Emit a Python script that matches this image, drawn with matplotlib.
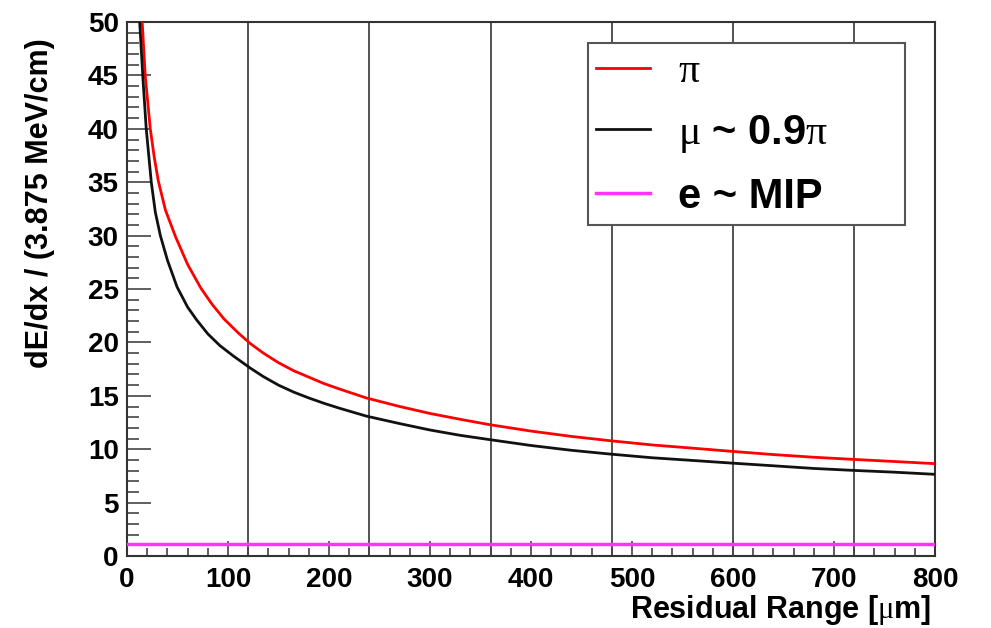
import matplotlib
matplotlib.use('Agg')
import matplotlib.pyplot as plt

plt.rcParams['font.family'] = ['Liberation Sans', 'DejaVu Sans']
plt.rcParams['font.weight'] = 'bold'
plt.rcParams['mathtext.fontset'] = 'custom'
plt.rcParams['mathtext.rm'] = 'Liberation Serif:weight=normal'
plt.rcParams['mathtext.default'] = 'rm'

# values
pi_x = [15, 18, 23, 27, 31, 38, 48, 60, 73, 84, 96, 110, 122, 135, 150, 165, 180,
        195, 210, 237, 270, 300, 330, 359, 400, 440, 478, 520, 560, 599, 640, 680,
        719, 760, 800]
pi_y = [50.0, 45.0, 40.0, 37.3, 35.1, 32.4, 29.9, 27.3, 25.1, 23.6, 22.2, 20.9,
        19.9, 19.0, 18.1, 17.35, 16.75, 16.15, 15.65, 14.8, 14.0, 13.35, 12.8,
        12.3, 11.7, 11.2, 10.8, 10.4, 10.1, 9.8, 9.5, 9.25, 9.05, 8.85, 8.65]
mu_x = [12.5, 15.8, 19, 24, 28, 33, 40, 49.5, 60, 69, 80, 92, 105, 122, 135, 150,
        165, 180, 195, 210, 237, 270, 300, 330, 359, 400, 440, 478, 520, 560, 599,
        640, 680, 719, 760, 800]
mu_y = [50.0, 44.6, 40.0, 35.0, 32.2, 30.0, 27.7, 25.2, 23.3, 22.1, 20.8, 19.7,
        18.75, 17.6, 16.8, 16.0, 15.35, 14.8, 14.3, 13.85, 13.1, 12.4, 11.8, 11.3,
        10.9, 10.35, 9.9, 9.55, 9.2, 8.95, 8.7, 8.45, 8.2, 8.02, 7.85, 7.65]
mip_x = [0, 800]
mip_y = [1.1, 1.1]
grid_x = [120, 240, 360, 480, 600, 720]

fig = plt.figure(figsize=(9.91, 6.28), dpi=100)
ax = fig.add_axes([0.1282, 0.1146, 0.8153, 0.8503])

for gx in grid_x:
    ax.axvline(gx, color='#444444', lw=1.3, zorder=1)

ax.plot(pi_x, pi_y, color='#ff0000', lw=2, label=r'$\pi$', zorder=3)
ax.plot(mu_x, mu_y, color='#111111', lw=2, label=r'$\mu$ ~ 0.9$\pi$', zorder=3)
ax.plot(mip_x, mip_y, color='#ff33ff', lw=2.5, label='e ~ MIP', zorder=3)

ax.set_xlim(0, 800)
ax.set_ylim(0, 50)
ax.set_xticks(range(0, 801, 100))
ax.set_xticks(range(0, 801, 20), minor=True)
ax.set_yticks(range(0, 51, 5))
ax.set_yticks(range(0, 51, 1), minor=True)
ax.tick_params(axis='both', which='both', direction='in', top=False, right=False,
               color='#444444', width=1.2)
ax.tick_params(axis='x', which='major', length=11, labelsize=20, pad=8)
ax.tick_params(axis='x', which='minor', length=6)
ax.tick_params(axis='y', which='major', length=17, labelsize=20, pad=6)
ax.tick_params(axis='y', which='minor', length=8.5)
for s in ax.spines.values():
    s.set_color('#333333')
    s.set_linewidth(1.5)

ax.set_xlabel(r'Residual Range [$\mu$m]', fontsize=22, fontweight='bold', loc='right')
ax.xaxis.set_label_coords(0.995, -0.069)
ax.set_ylabel('dE/dx / (3.875 MeV/cm)', fontsize=22, fontweight='bold', loc='top')
ax.yaxis.set_label_coords(-0.089, 0.97)

leg = ax.legend(loc='upper left', bbox_to_anchor=(0.5705, 0.6067, 0.3925, 0.354),
                mode='expand', fontsize=30, frameon=True, fancybox=False,
                framealpha=1, edgecolor='#555555', handlelength=1.3,
                handletextpad=0.65, borderpad=0.2, labelspacing=0.52,
                borderaxespad=0)
leg.get_frame().set_linewidth(1.5)

plt.savefig('out.png', dpi=100)
